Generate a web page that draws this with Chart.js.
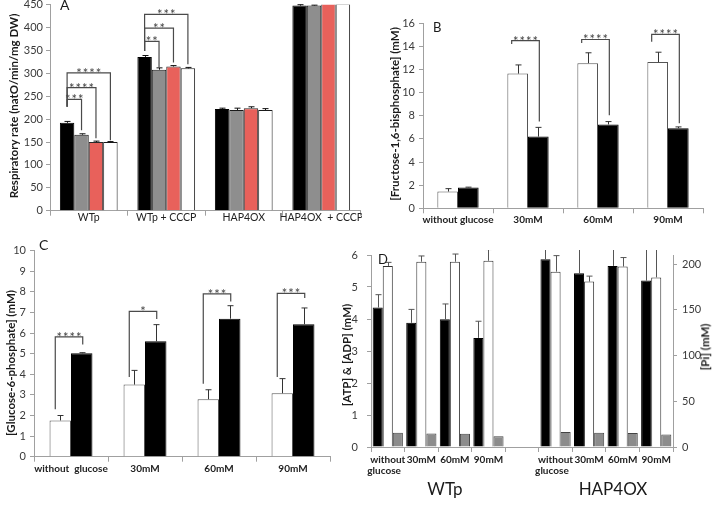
<!DOCTYPE html>
<html><head><meta charset="utf-8">
<title>Figure</title>
<script src="https://cdn.jsdelivr.net/npm/chart.js@4.4.1/dist/chart.umd.min.js"></script>
<style>
html,body{margin:0;padding:0;background:#fff;}
body{width:713px;height:505px;position:relative;overflow:hidden;font-family:Lato,"Open Sans",sans-serif;}
canvas{position:absolute;}
.t{position:absolute;white-space:nowrap;color:#1a1a1a;line-height:1;}
.c{position:absolute;white-space:nowrap;color:#1a1a1a;line-height:1;transform:translate(-50%,-50%);}
.yt{position:absolute;white-space:nowrap;color:#1a1a1a;font-weight:bold;font-size:11.5px;line-height:1;transform:translate(-50%,-50%) rotate(-90deg);}
</style></head><body>
<canvas id="cA" width="362" height="250" style="left:0;top:-10px"></canvas>
<canvas id="cB" width="353" height="250" style="left:360px;top:-10px"></canvas>
<canvas id="cC" width="345" height="265" style="left:0;top:240px"></canvas>
<canvas id="cD" width="383" height="265" style="left:330px;top:240px"></canvas>
<div class="yt" style="left:14px;top:106px">Respiratory rate (natO/min/mg DW)</div>
<div class="yt" style="left:395px;top:114px">[Fructose-1,6-bisphosphate] (mM)</div>
<div class="yt" style="left:11px;top:363px">[Glucose-6-phosphate] (mM)</div>
<div class="yt" style="left:347px;top:355px">[ATP] &amp; [ADP] (mM)</div>
<div class="yt" style="left:705px;top:347px">[Pi] (mM)</div>
<div class="t" style="left:60px;top:-2px;font-size:14px">A</div>
<div class="t" style="left:433px;top:21px;font-size:13px">B</div>
<div class="t" style="left:39px;top:238px;font-size:14px">C</div>
<div class="t" style="left:378px;top:253px;font-size:13px">D</div>
<div class="c" style="left:445px;top:488px;font-size:17px">WTp</div>
<div class="c" style="left:613px;top:488px;font-size:17px">HAP4OX</div>
<script>
// ---------- Panel A : respiratory rate ----------
const aCategories = ['WTp', 'WTp + CCCP', 'HAP4OX', 'HAP4OX  + CCCP'];
const aBlack = [192, 336, 222, 448];
const aBlackErr = [3, 3, 2, 2];
const aGrey = [166, 308, 220, 448];
const aGreyErr = [2, 4, 4, 1];
const aRed = [150, 315, 224, 455];
const aRedErr = [2, 2, 3, 0];
const aWhite = [150, 311, 220, 452];
const aWhiteErr = [1, 2, 3, 0];
const aYMax = 450, aYStep = 50;
const aBrackets = [
  {cat:0, from:0, to:1, level:243, fromLow:227, toLow:176, label:'***'},
  {cat:0, from:0, to:2, level:269, fromLow:227, toLow:158, label:'****'},
  {cat:0, from:0, to:3, level:301, fromLow:227, toLow:154, label:'****'},
  {cat:1, from:0, to:1, level:370, fromLow:349, toLow:313, label:'**'},
  {cat:1, from:0, to:2, level:399, fromLow:349, toLow:324, label:'**'},
  {cat:1, from:0, to:3, level:429, fromLow:349, toLow:320, label:'***'}
];

// ---------- Panel B : fructose-1,6-bisphosphate ----------
const bCategories = ['without glucose', '30mM', '60mM', '90mM'];
const bWhite = [1.45, 11.65, 12.55, 12.65];
const bWhiteErr = [0.25, 0.75, 0.9, 0.85];
const bBlack = [1.8, 6.2, 7.25, 6.92];
const bBlackErr = [0.03, 0.8, 0.25, 0.12];
const bYMax = 16, bYStep = 2;
const bBrackets = [
  {cat:1, from:0, to:1, level:14.5, fromLow:14.2, toLow:7.5, label:'****'},
  {cat:2, from:0, to:1, level:14.6, fromLow:14.3, toLow:8.05, label:'****'},
  {cat:3, from:0, to:1, level:15.05, fromLow:14.4, toLow:7.35, label:'****'}
];

// ---------- Panel C : glucose-6-phosphate ----------
const cCategories = ['without  glucose', '30mM', '60mM', '90mM'];
const cWhite = [1.76, 3.5, 2.79, 3.08];
const cWhiteErr = [0.24, 0.69, 0.46, 0.71];
const cBlack = [5.02, 5.6, 6.7, 6.43];
const cBlackErr = [0.03, 0.81, 0.63, 0.79];
const cYMax = 10, cYStep = 1;
const cBrackets = [
  {cat:0, from:0, to:1, level:5.82, fromLow:2.3, toLow:5.45, label:'****'},
  {cat:1, from:0, to:1, level:7.05, fromLow:3.87, toLow:6.69, label:'*'},
  {cat:2, from:0, to:1, level:7.9, fromLow:3.54, toLow:7.54, label:'***'},
  {cat:3, from:0, to:1, level:7.93, fromLow:3.87, toLow:7.7, label:'***'}
];

// ---------- Panel D : ATP, ADP and Pi ----------
const dCategories = [['without', 'glucose   '], '30mM', '60mM', '90mM', '',
                     ['without', 'glucose   '], '30mM', '60mM', '90mM'];
const dATP = [4.36, 3.88, 3.99, 3.41, null, 5.87, 5.43, 5.66, 5.2];
const dATPErr = [0.4, 0.42, 0.48, 0.52, null, 0.5, 0.9, 0.6, 1.0];
const dADP = [5.66, 5.79, 5.79, 5.82, null, 5.48, 5.17, 5.64, 5.3];
const dADPErr = [0.11, 0.18, 0.24, 0.35, null, 0.5, 0.17, 0.28, 0.9];
const dPi = [15.7, 14.9, 14.6, 11.7, null, 16.4, 15.7, 15.3, 13.8];
const dYMax = 6, dYStep = 1;
const dY2Max = 210, dY2Step = 50;

// ---------- helpers ----------
Chart.defaults.font.family = 'Lato, "Open Sans", sans-serif';
const AX = '#a0a0a0';

function yAxis(max, step, width, pad, extra) {
  return Object.assign({
    min: 0, max: max,
    ticks: {stepSize: step, color: '#3a3a3a', font: {size: 11}, padding: pad, includeBounds: false},
    grid: {drawOnChartArea: false, drawTicks: true, tickLength: 4, color: AX},
    border: {display: true, color: AX},
    afterFit: s => { s.width = width; s.paddingTop = 0; s.paddingBottom = 0; }
  }, extra || {});
}
function xAxis(height, size, weight, pad, lh) {
  return {
    grid: {offset: true, drawOnChartArea: false, drawTicks: true, tickLength: 5, color: AX},
    border: {display: true, color: AX},
    ticks: {color: '#222', font: {size: size, weight: weight, lineHeight: lh || 1.2}, padding: pad, maxRotation: 0, minRotation: 0, autoSkip: false},
    afterFit: s => { s.height = height; s.paddingLeft = 0; s.paddingRight = 0; }
  };
}
function overlay(errs, brackets, st) {
  return {
    id: 'overlay',
    afterDatasetsDraw(chart) {
      const ctx = chart.ctx, area = chart.chartArea;
      ctx.save();
      ctx.beginPath();
      ctx.rect(area.left, area.top - 5, area.right - area.left, area.bottom - area.top + 5);
      ctx.clip();
      ctx.strokeStyle = st.errColor; ctx.lineWidth = 1;
      errs.forEach((err, di) => {
        if (!err) return;
        const meta = chart.getDatasetMeta(di);
        const ys = chart.scales[meta.yAxisID];
        const data = chart.data.datasets[di].data;
        meta.data.forEach((el, i) => {
          const v = data[i], e = err[i];
          if (v == null || !e) return;
          const y0 = ys.getPixelForValue(v), y1 = ys.getPixelForValue(v + e);
          const x = Math.round(el.x) + 0.5;
          ctx.beginPath();
          ctx.moveTo(x, y0); ctx.lineTo(x, y1);
          ctx.moveTo(x - st.cap, y1); ctx.lineTo(x + st.cap, y1);
          ctx.stroke();
        });
      });
      ctx.restore();
      const ys = chart.scales.y;
      ctx.save();
      ctx.strokeStyle = '#4a4a4a'; ctx.lineWidth = 1.2;
      ctx.fillStyle = '#444';
      ctx.font = '13px Lato, sans-serif';
      ctx.textAlign = 'center'; ctx.textBaseline = 'alphabetic';
      if ('letterSpacing' in ctx) ctx.letterSpacing = '1px';
      brackets.forEach(b => {
        const xa = chart.getDatasetMeta(b.from).data[b.cat].x + st.dxFrom;
        const xb = chart.getDatasetMeta(b.to).data[b.cat].x + st.dxTo;
        const yl = ys.getPixelForValue(b.level);
        const ya = ys.getPixelForValue(b.fromLow), yb = ys.getPixelForValue(b.toLow);
        ctx.beginPath();
        ctx.moveTo(xa, ya); ctx.lineTo(xa, yl); ctx.lineTo(xb, yl); ctx.lineTo(xb, yb);
        ctx.stroke();
        ctx.fillText(b.label, (xa + xb) / 2 + 0.5, yl + 5);
      });
      ctx.restore();
    }
  };
}
function base(padding) {
  return {
    responsive: false, animation: false, devicePixelRatio: 1,
    layout: {padding: padding},
    plugins: {legend: {display: false}, tooltip: {enabled: false}}
  };
}
function bar(data, bg, border, extra) {
  return Object.assign({data: data, backgroundColor: bg, borderColor: border, borderWidth: 1,
    barPercentage: 1, borderSkipped: 'bottom'}, extra || {});
}

// ---------- Chart A ----------
new Chart(document.getElementById('cA'), {
  type: 'bar',
  data: {labels: aCategories, datasets: [
    bar(aBlack, '#000000', '#000000', {categoryPercentage: 0.745}),
    bar(aGrey, '#8e8e8e', '#1a1a1a', {categoryPercentage: 0.745}),
    bar(aRed, '#e8615b', '#2a2a2a', {categoryPercentage: 0.745}),
    bar(aWhite, '#ffffff', '#1a1a1a', {categoryPercentage: 0.745})
  ]},
  options: Object.assign(base({top: 14.7, right: 2, left: 0, bottom: 0}), {
    scales: {x: xAxis(29.3, 10.5, 'normal', -4), y: yAxis(aYMax, aYStep, 50, 3)}
  }),
  plugins: [overlay([aBlackErr, aGreyErr, aRedErr, aWhiteErr], aBrackets, {errColor: '#111', cap: 3, dxFrom: 0, dxTo: 0})]
});

// ---------- Chart B ----------
new Chart(document.getElementById('cB'), {
  type: 'bar',
  data: {labels: bCategories, datasets: [
    bar(bWhite, '#ffffff', '#555555', {categoryPercentage: 0.59}),
    bar(bBlack, '#000000', '#000000', {categoryPercentage: 0.59})
  ]},
  options: Object.assign(base({top: 33.3, right: 10, left: 0, bottom: 0}), {
    scales: {x: xAxis(31.7, 10, 'bold', 0), y: yAxis(bYMax, bYStep, 63, 4)}
  }),
  plugins: [overlay([bWhiteErr, bBlackErr], bBrackets, {errColor: '#333', cap: 3, dxFrom: -6, dxTo: 1})]
});

// ---------- Chart C ----------
new Chart(document.getElementById('cC'), {
  type: 'bar',
  data: {labels: cCategories, datasets: [
    bar(cWhite, '#ffffff', '#555555', {categoryPercentage: 0.58}),
    bar(cBlack, '#000000', '#000000', {categoryPercentage: 0.58})
  ]},
  options: Object.assign(base({top: 10.7, right: 15, left: 0, bottom: 0}), {
    scales: {x: xAxis(48.3, 10, 'bold', 1.5), y: yAxis(cYMax, cYStep, 34, 4)}
  }),
  plugins: [overlay([cWhiteErr, cBlackErr], cBrackets, {errColor: '#333', cap: 3, dxFrom: -5, dxTo: 1})]
});

// ---------- Chart D ----------
new Chart(document.getElementById('cD'), {
  type: 'bar',
  data: {labels: dCategories, datasets: [
    bar(dATP, '#000000', '#000000', {categoryPercentage: 0.9, yAxisID: 'y'}),
    bar(dADP, '#ffffff', '#333333', {categoryPercentage: 0.9, yAxisID: 'y'}),
    bar(dPi, '#8c8c8c', '#444444', {categoryPercentage: 0.9, yAxisID: 'y2'})
  ]},
  options: Object.assign(base({top: 15, right: 0, left: 0, bottom: 0}), {
    scales: {
      x: xAxis(58, 10, 'bold', 2, 1.1),
      y: yAxis(dYMax, dYStep, 41, 9, {position: 'left'}),
      y2: yAxis(dY2Max, dY2Step, 40, 5, {
        position: 'right',
        afterBuildTicks: s => { s.ticks = s.ticks.filter(t => t.value % dY2Step === 0); }
      })
    }
  }),
  plugins: [overlay([dATPErr, dADPErr, null], [], {errColor: '#555', cap: 3, dxFrom: 0, dxTo: 0})]
});
</script>
</body></html>
